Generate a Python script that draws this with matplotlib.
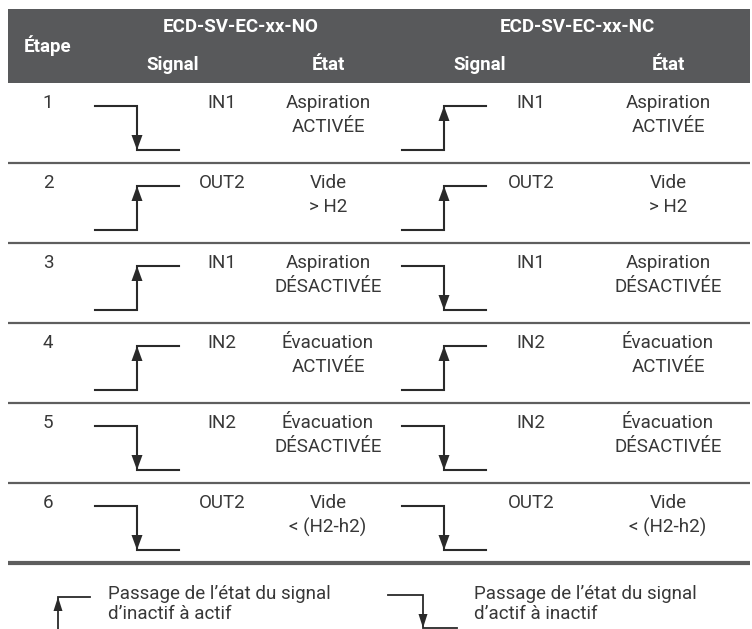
import matplotlib
matplotlib.use("Agg")
import matplotlib.pyplot as plt
from matplotlib.patches import Rectangle, Polygon

# ---------------- data ----------------
steps = ["1", "2", "3", "4", "5", "6"]
no_signals = ["IN1", "OUT2", "IN1", "IN2", "IN2", "OUT2"]
no_dirs = ["down", "up", "up", "up", "down", "down"]
nc_signals = ["IN1", "OUT2", "IN1", "IN2", "IN2", "OUT2"]
nc_dirs = ["up", "up", "down", "up", "down", "down"]
state_line1 = ["Aspiration", "Vide", "Aspiration", "Évacuation", "Évacuation", "Vide"]
state_line2 = ["ACTIVÉE", "> H2", "DÉSACTIVÉE", "ACTIVÉE", "DÉSACTIVÉE", "< (H2-h2)"]
group_titles = ["ECD-SV-EC-xx-NO", "ECD-SV-EC-xx-NC"]
sub_titles = ["Signal", "État"]
step_title = "Étape"
legend_texts = ["Passage de l’état du signal\nd’inactif à actif",
                "Passage de l’état du signal\nd’actif à inactif"]

# ---------------- layout ----------------
W, H = 752, 629
FONT = "Roboto"
TXT = "#383838"
LINE = "#2a2a2a"
HEAD_BG = "#58595b"
SEP = "#5e5e5e"

x_left, x_right = 8, 750
head_top, head_bot = 9, 83
row_h = 80
x_step = 48
sig_step_x = [137, 444]      # x of the vertical step in each group
sig_half = 42                # half width of the step drawing
lab_x = [222, 531]           # signal name column
state_x = [328, 668]         # state column
sub_x = [[173, 328], [480, 668]]
title_x = [241, 577]

fig = plt.figure(figsize=(W / 100, H / 100), dpi=100)
ax = fig.add_axes([0, 0, 1, 1])
ax.set_xlim(0, W)
ax.set_ylim(H, 0)
ax.axis("off")

fs = 13.5
fsh = 13.5

# header
ax.add_patch(Rectangle((x_left, head_top), x_right - x_left, head_bot - head_top,
                       facecolor=HEAD_BG, edgecolor="none"))
ax.text(x_step, 46, step_title, ha="center", va="center", color="white",
        fontsize=fsh, fontweight="bold", family=FONT)
for g in range(2):
    ax.text(title_x[g], 27, group_titles[g], ha="center", va="center", color="white",
            fontsize=fsh, fontweight="bold", family=FONT)
    for k in range(2):
        ax.text(sub_x[g][k], 65, sub_titles[k], ha="center", va="center", color="white",
                fontsize=fsh, fontweight="bold", family=FONT)


def arrow_head(x, y_tip, direction, length=15, half_w=5.5):
    sgn = 1 if direction == "down" else -1
    base = y_tip - sgn * length
    ax.add_patch(Polygon([(x, y_tip), (x - half_w, base), (x + half_w, base)],
                         closed=True, facecolor=LINE, edgecolor="none"))


def step_signal(xc, y_hi, y_lo, direction, half=sig_half, lw=1.5):
    xs = [xc - half, xc, xc, xc + half]
    if direction == "down":
        ys = [y_hi, y_hi, y_lo, y_lo]
        ax.plot(xs, ys, color=LINE, lw=lw, solid_joinstyle="miter")
        arrow_head(xc, y_lo, "down")
    else:
        ys = [y_lo, y_lo, y_hi, y_hi]
        ax.plot(xs, ys, color=LINE, lw=lw, solid_joinstyle="miter")
        arrow_head(xc, y_hi, "up")


dirs = [no_dirs, nc_dirs]
sigs = [no_signals, nc_signals]
for i, st in enumerate(steps):
    top = head_bot + i * row_h
    ax.text(x_step, top + 20, st, ha="center", va="center", color=TXT,
            fontsize=fs, family=FONT)
    for g in range(2):
        step_signal(sig_step_x[g], top + 23, top + 67, dirs[g][i])
        ax.text(lab_x[g], top + 20, sigs[g][i], ha="center", va="center", color=TXT,
                fontsize=fs, family=FONT)
        ax.text(state_x[g], top + 20, state_line1[i], ha="center", va="center", color=TXT,
                fontsize=fs, family=FONT)
        ax.text(state_x[g], top + 44, state_line2[i], ha="center", va="center", color=TXT,
                fontsize=fs, family=FONT)
    bottom = top + row_h
    last = i == len(steps) - 1
    ax.plot([x_left, x_right], [bottom, bottom], color=SEP,
            lw=3.0 if last else 1.6, solid_capstyle="butt")

# legend
ly = 597
# up legend
ax.plot([58, 58, 90], [H + 5, ly, ly], color=LINE, lw=1.3, solid_joinstyle="miter")
arrow_head(58, ly, "up", length=14, half_w=4.5)
ax.text(108, 604, legend_texts[0], ha="left", va="center", color=TXT,
        fontsize=fs, family=FONT, linespacing=1.15)
# down legend
ax.plot([388, 423, 423, 457], [ly - 2, ly - 2, H - 1, H - 1], color=LINE, lw=1.3,
        solid_joinstyle="miter")
arrow_head(423, H - 1, "down", length=14, half_w=4.5)
ax.text(474, 604, legend_texts[1], ha="left", va="center", color=TXT,
        fontsize=fs, family=FONT, linespacing=1.15)

fig.savefig("out.png", dpi=100)
